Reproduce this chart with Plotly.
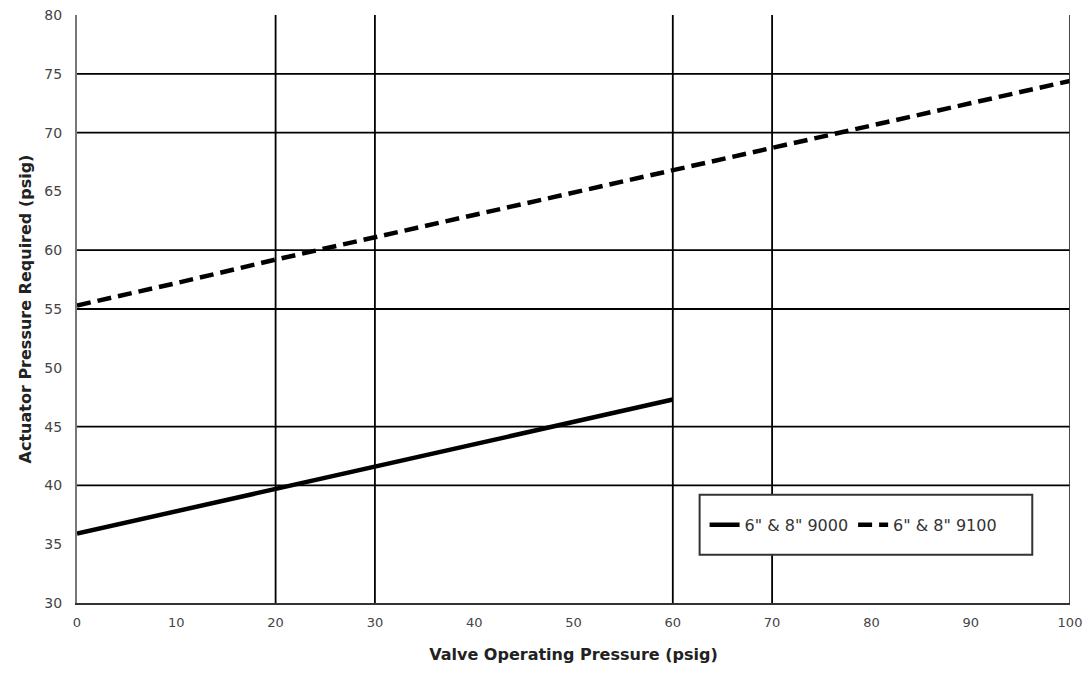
import plotly.graph_objects as go

# valve operating pressure (psig)
pressure_9000 = [0, 10, 20, 30, 40, 50, 60]
pressure_9100 = [0, 10, 20, 30, 40, 50, 60, 70, 80, 90, 100]

# actuator pressure required (psig)
actuator_9000 = [35.9, 37.8, 39.7, 41.6, 43.5, 45.4, 47.3]
actuator_9100 = [55.3, 57.2, 59.2, 61.1, 63.0, 64.9, 66.8, 68.7, 70.6, 72.5, 74.4]

series_names = ['6" & 8" 9000', '6" & 8" 9100']

# gridlines that show in the original scan
grid_x = [20, 30, 60, 70]
grid_y = [40, 45, 55, 60, 70, 75]

fig = go.Figure()

fig.add_trace(go.Scatter(
    x=pressure_9000, y=actuator_9000, mode='lines', name=series_names[0],
    line=dict(color='black', width=4.5),
))
fig.add_trace(go.Scatter(
    x=pressure_9100, y=actuator_9100, mode='lines', name=series_names[1],
    line=dict(color='black', width=4.5, dash='14px,7px'),
))

for gx in grid_x:
    fig.add_shape(type='line', xref='x', yref='y', x0=gx, x1=gx, y0=30, y1=80,
                  line=dict(color='black', width=1.8), layer='below')
for gy in grid_y:
    fig.add_shape(type='line', xref='x', yref='y', x0=0, x1=100, y0=gy, y1=gy,
                  line=dict(color='black', width=1.8), layer='below')

# right border of the plot area
fig.add_shape(type='line', xref='x', yref='y', x0=100, x1=100, y0=30, y1=80,
              line=dict(color='#333333', width=1.8))

# legend frame
fig.add_shape(type='rect', xref='paper', yref='paper', x0=0.627, x1=0.962, y0=0.082, y1=0.184,
              line=dict(color='#333333', width=2), fillcolor='white', layer='above')

tick_font = dict(family='DejaVu Sans', size=13, color='#444444')
title_font = dict(family='DejaVu Sans', size=16, color='#222222')

fig.update_layout(
    width=1090, height=675,
    margin=dict(l=69, r=28, t=7, b=80),
    plot_bgcolor='white', paper_bgcolor='white',
    showlegend=True,
    legend=dict(
        orientation='h', x=0.632, y=0.133, xanchor='left', yanchor='middle',
        borderwidth=0, bgcolor='rgba(0,0,0,0)',
        font=dict(family='DejaVu Sans', size=16, color='#333333'),
    ),
    xaxis=dict(
        range=[0, 100], dtick=10, showgrid=False, zeroline=False, automargin=False,
        showline=True, linecolor='#333333', linewidth=2,
        tickfont=tick_font, ticks='', ticklabelstandoff=6, ticklabeloverflow='allow',
        title=dict(text='<b>Valve Operating Pressure (psig)</b>', font=title_font, standoff=20),
    ),
    yaxis=dict(
        range=[30, 80], dtick=5, showgrid=False, zeroline=False, automargin=False,
        showline=True, linecolor='#777777', linewidth=2,
        tickfont=dict(family='DejaVu Sans', size=14, color='#444444'),
        ticks='', ticklabelstandoff=10, ticklabeloverflow='allow',
        title=dict(text='<b>Actuator Pressure Required (psig)</b>', font=title_font, standoff=9),
    ),
)

fig.write_html("out.html")
